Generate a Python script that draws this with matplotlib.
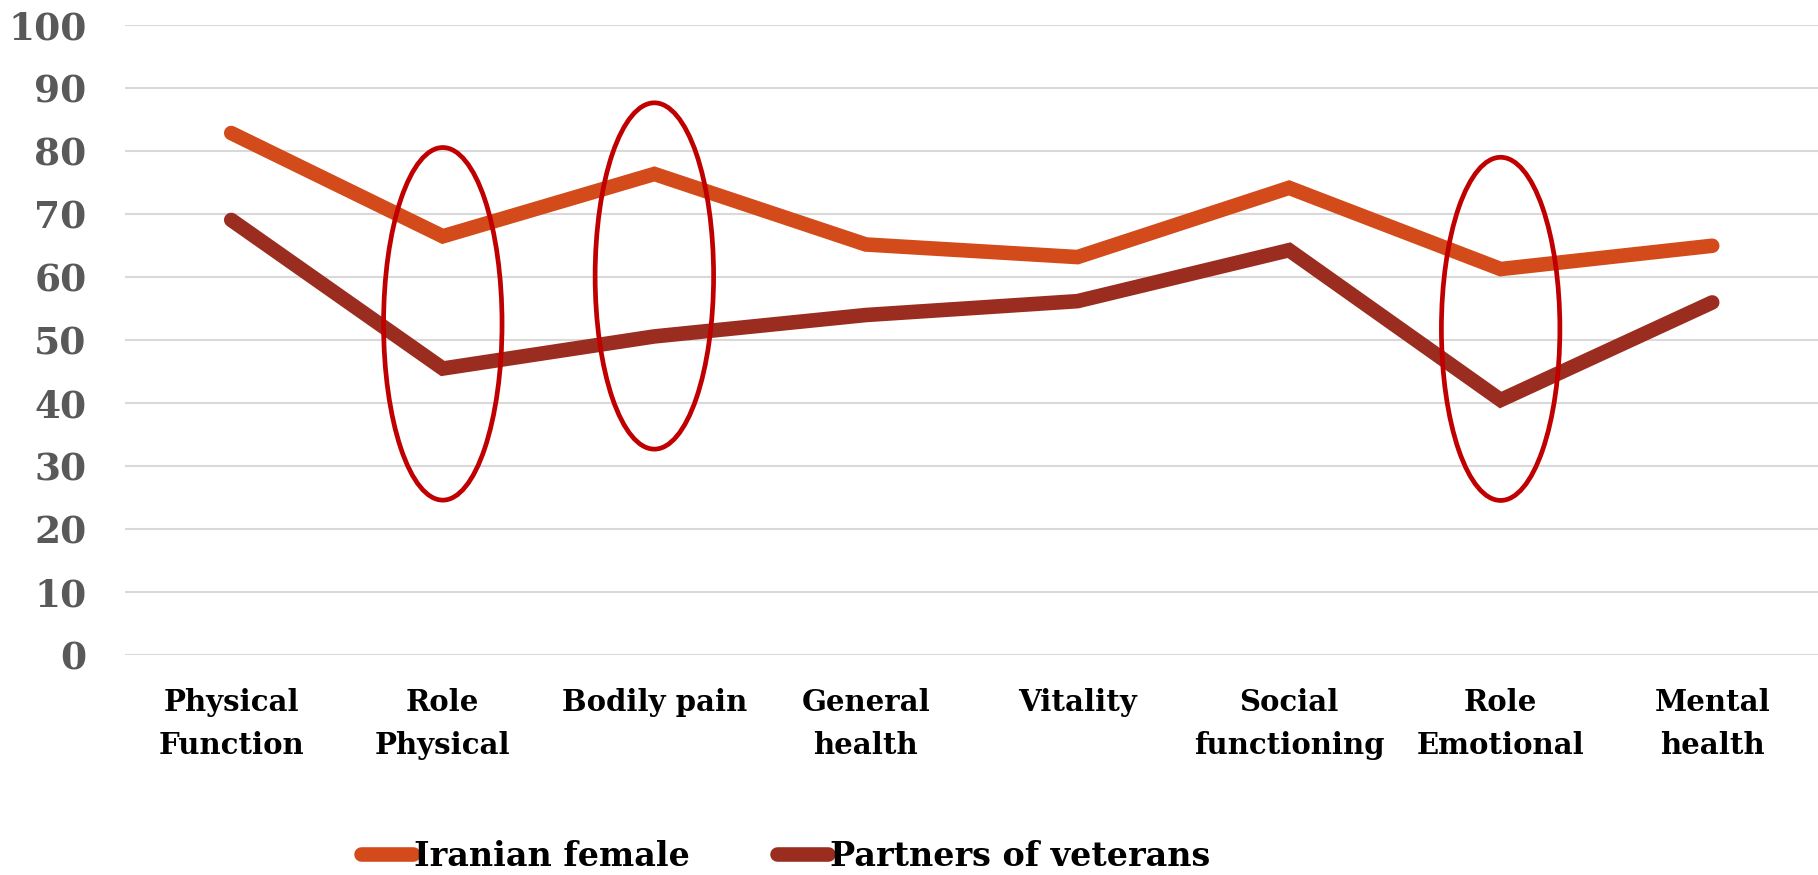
import matplotlib
matplotlib.use("Agg")
import matplotlib.pyplot as plt
from matplotlib.patches import Ellipse

categories = ["Physical\nFunction", "Role\nPhysical", "Bodily pain", "General\nhealth",
              "Vitality", "Social\nfunctioning", "Role\nEmotional", "Mental\nhealth"]
iranian_female = [82.9, 66.5, 76.4, 65.2, 63.2, 74.2, 61.3, 65.0]
partners_of_veterans = [69.1, 45.5, 50.6, 54.0, 56.2, 64.3, 40.5, 56.0]
series_names = ["Iranian female", "Partners of veterans"]
yticks = list(range(0, 101, 10))

# highlighted categories (index, centre value, height)
highlight_idx = [1, 2, 6]
highlight_center = [52.6, 60.2, 51.8]
highlight_height = [56.0, 55.0, 54.5]

FONT = "DejaVu Serif"

fig = plt.figure(figsize=(18.18, 8.75), dpi=100)
ax = fig.add_axes([0.069, 0.2514, 0.931, 0.7196])

x = list(range(len(categories)))
ax.plot(x, iranian_female, color="#D34B1A", lw=10.5, solid_capstyle="round",
        solid_joinstyle="miter", label=series_names[0], zorder=3)
ax.plot(x, partners_of_veterans, color="#9B2D20", lw=10.5, solid_capstyle="round",
        solid_joinstyle="miter", label=series_names[1], zorder=3)

for i, c, h in zip(highlight_idx, highlight_center, highlight_height):
    ax.add_patch(Ellipse((i, c), width=0.56, height=h, fill=False,
                         edgecolor="#C00000", lw=3.4, zorder=4))

ax.set_xlim(-0.5, len(categories) - 0.5)
ax.set_ylim(0, 100)
ax.set_yticks(yticks)
ax.set_yticklabels([str(v) for v in yticks], fontfamily=FONT, fontweight="bold",
                   fontsize=27, color="#595959")
ax.set_xticks(x)
ax.set_xticklabels(categories, fontfamily=FONT, fontweight="bold", fontsize=21,
                   color="black", linespacing=1.6)
ax.tick_params(axis="both", length=0)
ax.tick_params(axis="x", pad=24)
ax.tick_params(axis="y", pad=28)
ax.grid(axis="y", color="#D9D9D9", lw=1.5)
ax.set_axisbelow(True)
for s in ax.spines.values():
    s.set_visible(False)

leg = fig.legend(loc="lower left", bbox_to_anchor=(0.182, -0.032), ncol=2, frameon=False,
                 prop={"family": FONT, "weight": "bold", "size": 24},
                 handlelength=1.55, handletextpad=0.05, columnspacing=2.6)
for h in leg.get_lines():
    h.set_linewidth(10.5)
    h.set_solid_capstyle("round")

fig.savefig("out.png", dpi=100)
